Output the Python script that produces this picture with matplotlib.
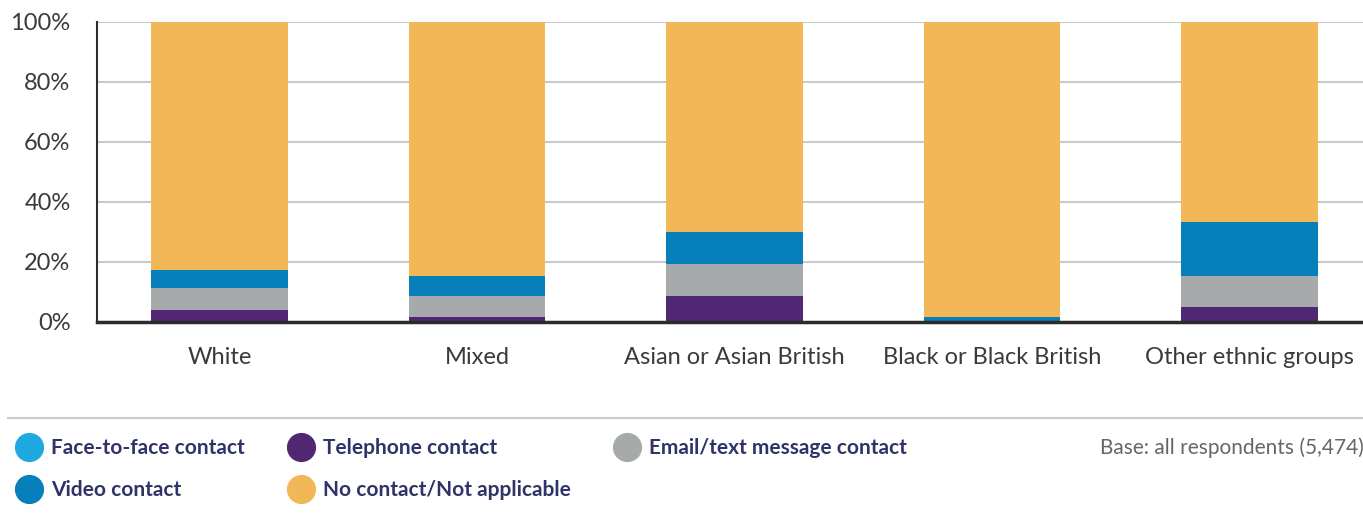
import matplotlib
matplotlib.use("Agg")
from matplotlib import pyplot as plt
from matplotlib.lines import Line2D
import numpy as np

groups = ["White", "Mixed", "Asian or Asian British", "Black or Black British", "Other ethnic groups"]

# percentages, stacked bottom to top
face_to_face = [0, 0, 0, 0, 0]
telephone = [4.0, 1.7, 8.7, 0.0, 5.0]
email_text = [7.3, 7.0, 10.6, 0.0, 10.3]
video = [6.0, 6.6, 10.7, 1.6, 18.0]
no_contact = [100 - a - b - c - d for a, b, c, d in zip(face_to_face, telephone, email_text, video)]

series = [
    ("Face-to-face contact", face_to_face, "#1fa9e1"),
    ("Telephone contact", telephone, "#512773"),
    ("Email/text message contact", email_text, "#a7aaaa"),
    ("Video contact", video, "#077fba"),
    ("No contact/Not applicable", no_contact, "#f2b757"),
]

label_col = "#2f3368"
tick_col = "#3a3a3a"

fig = plt.figure(figsize=(13.63, 5.16), dpi=100)
ax = fig.add_axes([97 / 1363, (516 - 322) / 516, 1 - 97 / 1363, 300 / 516])

x = np.arange(len(groups))
bottom = np.zeros(len(groups))
for name, vals, col in series:
    ax.bar(x, vals, bottom=bottom, width=0.53, color=col, zorder=3)
    bottom += np.array(vals)

ax.set_xlim(-0.475, 4.44)
ax.set_ylim(0, 100)
ax.set_yticks(range(0, 101, 20))
ax.set_yticklabels([f"{v}%" for v in range(0, 101, 20)])
ax.set_xticks(x)
ax.set_xticklabels(groups)
ax.yaxis.grid(True, color="#c8c9c9", linewidth=1.5, zorder=0)
ax.tick_params(axis="both", length=0, labelsize=17, colors=tick_col)
ax.tick_params(axis="x", pad=18)
ax.tick_params(axis="y", pad=19)
for lab in ax.get_xticklabels() + ax.get_yticklabels():
    lab.set_fontfamily("Lato")
ax.spines["top"].set_visible(False)
ax.spines["right"].set_visible(False)
ax.spines["left"].set_color("#2b2b2b")
ax.spines["left"].set_linewidth(1.5)
ax.spines["bottom"].set_color("#2b2b2b")
ax.spines["bottom"].set_linewidth(2.5)
ax.spines["bottom"].set_zorder(4)

# separator line above the legend
fig.add_artist(Line2D([8 / 1363, 1.0], [1 - 418 / 516, 1 - 418 / 516], color="#c8c9c9", linewidth=1.5))

order = [0, 3, 1, 4, 2]
handles = [Line2D([], [], marker="o", linestyle="none", markersize=20,
                  markerfacecolor=series[i][2], markeredgecolor=series[i][2]) for i in order]
labels = [series[i][0] for i in order]
leg = fig.legend(handles, labels, ncol=3, loc="upper left", bbox_to_anchor=(18 / 1363, 1 - 438 / 516),
                 frameon=False, handletextpad=0.5, columnspacing=2.15, labelspacing=1.05,
                 handlelength=1.1, borderaxespad=0, borderpad=0.0,
                 prop={"family": "Lato", "weight": "bold", "size": 15})
for t in leg.get_texts():
    t.set_color(label_col)

fig.text(1100 / 1363, 1 - 448 / 516, "Base: all respondents (5,474)", fontsize=15,
         family="Lato", color="#666666", va="center", ha="left")

fig.savefig("out.png", dpi=100)
